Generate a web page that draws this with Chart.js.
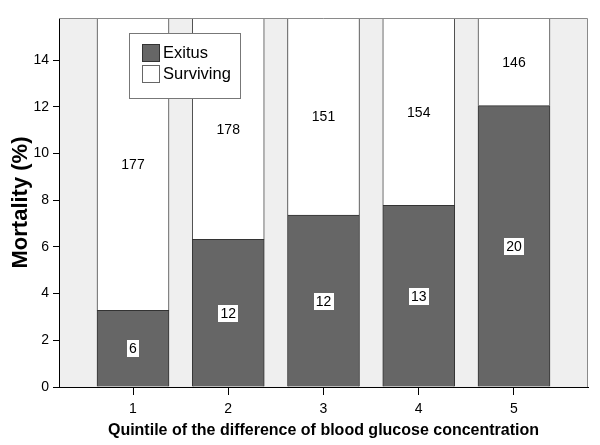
<!DOCTYPE html>
<html>
<head>
<meta charset="utf-8">
<script src="https://cdn.jsdelivr.net/npm/chart.js@4/dist/chart.umd.min.js"></script>
<style>
  html, body { margin: 0; padding: 0; background: #fff; }
  #wrap { width: 600px; height: 445px; position: relative; }
</style>
</head>
<body>
<div id="wrap"><canvas id="c" width="600" height="445"></canvas></div>
<script>
// Data
const quintiles = [1, 2, 3, 4, 5];
const exitusPct = [3.28, 6.32, 7.36, 7.78, 12.05];
const survivingPct = [96.72, 93.68, 92.64, 92.22, 87.95];
const exitusN = [6, 12, 12, 13, 20];
const survivingN = [177, 178, 151, 154, 146];
const yTicks = [0, 2, 4, 6, 8, 10, 12, 14];
const seriesNames = ['Exitus', 'Surviving'];

const FONT = "'Liberation Sans', Arial, sans-serif";
const DARK = '#666666';

const bgPlugin = {
  id: 'bg',
  beforeDraw(chart) {
    const {ctx, chartArea: a} = chart;
    ctx.save();
    ctx.fillStyle = '#efefef';
    ctx.fillRect(a.left, a.top, a.right - a.left, a.bottom - a.top);
    ctx.restore();
  },
  afterDraw(chart) {
    const {ctx, chartArea: a} = chart;
    ctx.save();
    // frame top/right
    ctx.strokeStyle = '#8a8a8a';
    ctx.lineWidth = 1;
    ctx.beginPath();
    ctx.moveTo(a.left, a.top + 0.5);
    ctx.lineTo(a.right - 0.5, a.top + 0.5);
    ctx.lineTo(a.right - 0.5, a.bottom);
    ctx.stroke();

    // value labels
    ctx.font = '14px ' + FONT;
    ctx.textAlign = 'center';
    ctx.textBaseline = 'middle';
    const m0 = chart.getDatasetMeta(0);
    const m1 = chart.getDatasetMeta(1);
    m0.data.forEach((bar, i) => {
      const cy = (bar.y + bar.base) / 2;
      const txt = String(exitusN[i]);
      const w = ctx.measureText(txt).width + 4;
      ctx.fillStyle = '#fff';
      ctx.fillRect(Math.round(bar.x - w / 2), Math.round(cy - 8), Math.round(w), 17);
      ctx.fillStyle = '#000';
      ctx.fillText(txt, bar.x, cy + 1);
    });
    m1.data.forEach((bar, i) => {
      const top = Math.max(bar.y, a.top);
      const cy = (top + bar.base) / 2;
      ctx.fillStyle = '#000';
      ctx.fillText(String(survivingN[i]), bar.x, cy + 1);
    });

    // legend
    const lx = 129.5, ly = 33.5, lw = 111, lh = 65;
    ctx.fillStyle = '#fff';
    ctx.fillRect(lx, ly, lw, lh);
    ctx.strokeStyle = '#777';
    ctx.strokeRect(lx, ly, lw, lh);
    const sw = [{fill: DARK, stroke: '#333', y: 44.5}, {fill: '#fff', stroke: '#666', y: 65.5}];
    ctx.font = '16.5px ' + FONT;
    ctx.textAlign = 'left';
    sw.forEach((s, i) => {
      ctx.fillStyle = s.fill;
      ctx.fillRect(142.5, s.y, 17, 17);
      ctx.strokeStyle = s.stroke;
      ctx.strokeRect(142.5, s.y, 17, 17);
      ctx.fillStyle = '#000';
      ctx.fillText(seriesNames[i], 163, s.y + 9);
    });
    ctx.restore();
  }
};

new Chart(document.getElementById('c'), {
  type: 'bar',
  data: {
    datasets: [
      {
        label: seriesNames[0],
        data: quintiles.map((q, i) => ({x: q, y: exitusPct[i]})),
        backgroundColor: DARK,
        borderColor: '#333',
        borderWidth: 1,
        barThickness: 72,
        stack: 's'
      },
      {
        label: seriesNames[1],
        data: quintiles.map((q, i) => ({x: q, y: survivingPct[i]})),
        backgroundColor: '#ffffff',
        borderColor: '#444',
        borderWidth: 1,
        barThickness: 72,
        stack: 's'
      }
    ]
  },
  options: {
    responsive: false,
    animation: false,
    devicePixelRatio: 1,
    layout: { padding: { top: 18, right: 12, left: 0, bottom: 0 } },
    plugins: { legend: { display: false }, tooltip: { enabled: false } },
    scales: {
      x: {
        type: 'linear',
        stacked: true,
        offset: false,
        min: 0.223,
        max: 5.777,
        afterBuildTicks: (s) => { s.ticks = quintiles.map(v => ({value: v})); },
        afterFit: (s) => { s.height = 58; },
        grid: { offset: false, drawOnChartArea: false, tickLength: 8, color: '#000', lineWidth: 1 },
        border: { color: '#000', width: 1 },
        ticks: { color: '#000', font: { family: FONT, size: 14 }, padding: 6, maxRotation: 0 },
        title: {
          display: true,
          text: 'Quintile of the difference of blood glucose concentration',
          color: '#000',
          font: { family: FONT, size: 16, weight: 'bold' },
          padding: { top: 0, bottom: 5 }
        }
      },
      y: {
        stacked: true,
        min: 0,
        max: 15.8,
        afterBuildTicks: (s) => { s.ticks = yTicks.map(v => ({value: v})); },
        afterFit: (s) => { s.width = 59; },
        grid: { drawOnChartArea: false, tickLength: 6, color: '#000', lineWidth: 1 },
        border: { color: '#000', width: 1 },
        ticks: { color: '#000', font: { family: FONT, size: 14 }, padding: 4 },
        title: {
          display: true,
          text: 'Mortality (%)',
          color: '#000',
          font: { family: FONT, size: 22, weight: 'bold' },
          padding: { top: 8, bottom: 0 }
        }
      }
    }
  },
  plugins: [bgPlugin]
});
</script>
</body>
</html>
